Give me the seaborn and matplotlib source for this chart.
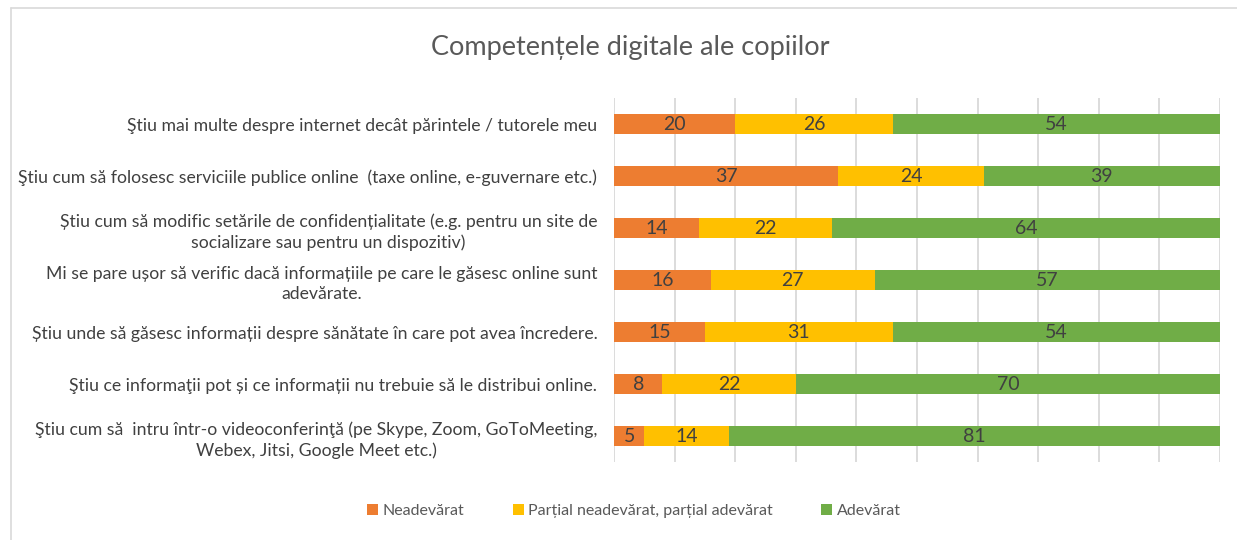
import numpy as np
import pandas as pd
import matplotlib
matplotlib.use("Agg")
import matplotlib.pyplot as plt
import seaborn as sns
from matplotlib.lines import Line2D
from matplotlib.patches import Patch

statements = [
    "Ştiu mai multe despre internet decât părintele / tutorele meu",
    "Ştiu cum să folosesc serviciile publice online  (taxe online, e-guvernare etc.)",
    "Știu cum să modific setările de confidențialitate (e.g. pentru un site de\nsocializare sau pentru un dispozitiv)",
    "Mi se pare ușor să verific dacă informațiile pe care le găsesc online sunt\nadevărate.",
    "Știu unde să găsesc informații despre sănătate în care pot avea încredere.",
    "Ştiu ce informaţii pot și ce informații nu trebuie să le distribui online.",
    "Ştiu cum să  intru într-o videoconferinţă (pe Skype, Zoom, GoToMeeting,\nWebex, Jitsi, Google Meet etc.)",
]
neadevarat = [20, 37, 14, 16, 15, 8, 5]
partial = [26, 24, 22, 27, 31, 22, 14]
adevarat = [54, 39, 64, 57, 54, 70, 81]

series_names = ["Neadevărat", "Parțial neadevărat, parțial adevărat", "Adevărat"]
colors = ["#ED7D31", "#FFC000", "#70AD47"]

df = pd.DataFrame({"statement": statements, "n": neadevarat, "p": partial, "a": adevarat})
df["cum_n"] = df["n"]
df["cum_p"] = df["n"] + df["p"]
df["cum_a"] = df["cum_p"] + df["a"]

sns.set_theme(style="white")
plt.rcParams["font.family"] = ["Lato", "DejaVu Sans"]

fig = plt.figure(figsize=(12.37, 5.40), dpi=100)
ax = fig.add_axes([614 / 1237, 1 - 462 / 540, (1220 - 614) / 1237, 364 / 540])

# stacked bars drawn back to front with cumulative totals
for col, color in zip(["cum_a", "cum_p", "cum_n"], colors[::-1]):
    sns.barplot(data=df, y="statement", x=col, orient="h", color=color,
                width=0.385, saturation=1, ax=ax, linewidth=0, zorder=3)

for i, row in df.iterrows():
    starts = [0, row["n"], row["cum_p"]]
    for s, v in zip(starts, [row["n"], row["p"], row["a"]]):
        ax.text(s + v / 2, i, str(v), ha="center", va="center",
                fontsize=14, color="#404040", zorder=4)

ax.set_xlim(0, 100)
ax.set_xticks(np.arange(0, 101, 10))
ax.set_xticklabels([])
ax.tick_params(axis="x", length=0)
ax.tick_params(axis="y", length=0, pad=12, labelsize=12.7, labelcolor="#404040")
for lbl in ax.get_yticklabels():
    lbl.set_multialignment("center")
    lbl.set_linespacing(1.35)
ax.grid(axis="x", color="#D9D9D9", linewidth=1.3, zorder=0)
ax.set_axisbelow(True)
ax.set_xlabel("")
ax.set_ylabel("")
for sp in ax.spines.values():
    sp.set_visible(False)

fig.text(630 / 1237, 1 - 47 / 540, "Competențele digitale ale copiilor",
         ha="center", va="center", fontsize=19.5, color="#595959")

handles = [Patch(facecolor=c, edgecolor="none") for c in colors]
fig.legend(handles, series_names, loc="center", bbox_to_anchor=(634 / 1237, 1 - 511 / 540),
           ncol=3, frameon=False, fontsize=11.5, labelcolor="#595959",
           handlelength=0.7, handleheight=0.7, handletextpad=0.3, columnspacing=3.0)

# chart frame (left and top edges visible)
fig.add_artist(Line2D([11 / 1237, 11 / 1237], [0, 1 - 8 / 540], transform=fig.transFigure,
                      color="#D9D9D9", linewidth=1.2))
fig.add_artist(Line2D([11 / 1237, 1], [1 - 8 / 540, 1 - 8 / 540], transform=fig.transFigure,
                      color="#D9D9D9", linewidth=1.2))

fig.savefig("out.png", dpi=100, facecolor="white")
